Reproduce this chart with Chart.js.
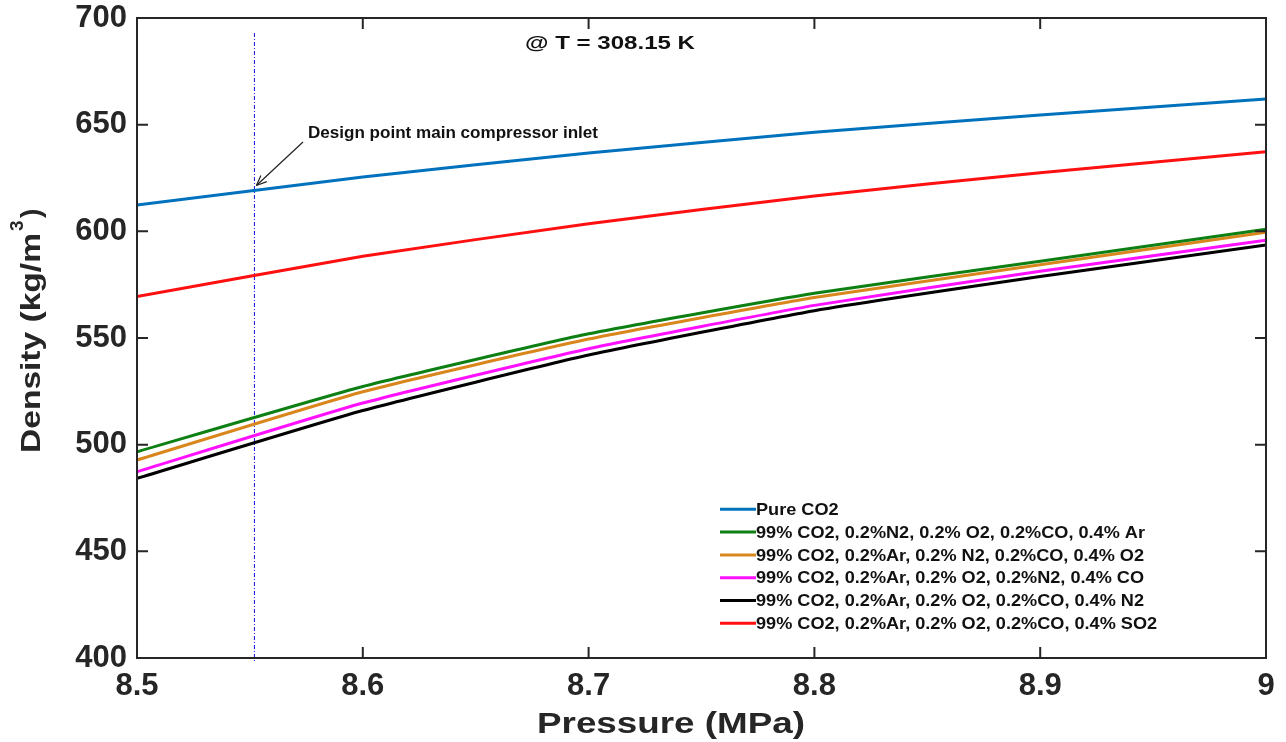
<!DOCTYPE html>
<html lang="en">

<head>
  <meta charset="UTF-8" />
  <title>Density vs Pressure</title>
  <style>
    body {
      margin: 0;
      background: #fff;
    }

    #chartBox {
      width: 1286px;
      height: 742px;
    }
  </style>
  <script src="https://cdn.jsdelivr.net/npm/chart.js"></script>
</head>

<body>
  <div id="chartBox">
    <canvas id="chart"></canvas>
  </div>
</body>

</html>
<script>
  // data
  const pressure = [8.5, 8.6, 8.7, 8.8, 8.9, 9.0]
  const pureCO2 = [612.3, 625.5, 636.7, 646.5, 654.5, 662.0]
  const mixAr = [496.7, 527.3, 552.0, 571.0, 586.0, 601.0]
  const mixO2 = [492.8, 524.8, 549.5, 569.0, 584.3, 599.6]
  const mixCO = [487.3, 519.5, 545.0, 565.3, 581.3, 595.8]
  const mixN2 = [484.2, 516.0, 542.0, 562.8, 578.8, 593.6]
  const mixSO2 = [569.4, 588.3, 603.6, 616.6, 627.5, 637.3]

  const seriesNames = [
    "Pure CO2",
    "99% CO2, 0.2%N2, 0.2% O2, 0.2%CO, 0.4% Ar",
    "99% CO2, 0.2%Ar, 0.2% N2, 0.2%CO, 0.4% O2",
    "99% CO2, 0.2%Ar, 0.2% O2, 0.2%N2, 0.4% CO",
    "99% CO2, 0.2%Ar, 0.2% O2, 0.2%CO, 0.4% N2",
    "99% CO2, 0.2%Ar, 0.2% O2, 0.2%CO, 0.4% SO2"
  ]
  const seriesColors = ["#0072BD", "#0E7F12", "#D9861C", "#FF10FF", "#000000", "#FF1010"]
  const seriesValues = [pureCO2, mixAr, mixO2, mixCO, mixN2, mixSO2]

  const xTicks = [8.5, 8.6, 8.7, 8.8, 8.9, 9]
  const xTickLabels = ["8.5", "8.6", "8.7", "8.8", "8.9", "9"]
  const yTicks = [400, 450, 500, 550, 600, 650, 700]

  const designPressure = 8.552
  const designLabel = "Design point main compressor inlet"
  const tempLabel = "@ T = 308.15 K"

  const axisColor = "#262626"
  const boldFont = "'Liberation Sans', Arial, sans-serif"

  const datasets = seriesValues.map((vals, i) => ({
    label: seriesNames[i],
    data: vals.map((v, j) => ({ x: pressure[j], y: v })),
    borderColor: seriesColors[i],
    backgroundColor: seriesColors[i],
    borderWidth: 3,
    pointRadius: 0,
    tension: 0.15,
    fill: false
  }))

  // draws text squeezed/stretched to a given width (the figure is slightly stretched)
  function fitText(ctx, text, x, y, width) {
    const w = ctx.measureText(text).width
    ctx.save()
    ctx.translate(x, y)
    ctx.scale(width / w, 1)
    ctx.fillText(text, 0, 0)
    ctx.restore()
  }

  // frame, inward ticks, titles, annotations and legend
  const decorations = {
    id: "decorations",
    beforeDatasetsDraw(chart) {
      const { ctx, chartArea, scales } = chart
      const px = scales.x.getPixelForValue(designPressure)
      ctx.save()
      ctx.strokeStyle = "#1010E0"
      ctx.lineWidth = 1
      ctx.setLineDash([4, 2, 1, 2])
      ctx.beginPath()
      ctx.moveTo(px, chartArea.top + 15)
      ctx.lineTo(px, chartArea.bottom + 4)
      ctx.stroke()
      ctx.restore()
    },
    afterDraw(chart) {
      const { ctx, chartArea, scales } = chart
      const { left, right, top, bottom } = chartArea
      ctx.save()
      ctx.strokeStyle = axisColor
      ctx.lineWidth = 2
      ctx.strokeRect(left, top, right - left, bottom - top)
      const tl = 11
      ctx.beginPath()
      xTicks.forEach(v => {
        const p = scales.x.getPixelForValue(v)
        ctx.moveTo(p, bottom); ctx.lineTo(p, bottom - tl)
        ctx.moveTo(p, top); ctx.lineTo(p, top + tl)
      })
      yTicks.forEach(v => {
        const p = scales.y.getPixelForValue(v)
        ctx.moveTo(left, p); ctx.lineTo(left + tl, p)
        ctx.moveTo(right, p); ctx.lineTo(right - tl, p)
      })
      ctx.stroke()

      // axis titles
      ctx.fillStyle = axisColor
      ctx.textBaseline = "alphabetic"
      ctx.textAlign = "left"
      ctx.font = "bold 29px " + boldFont
      fitText(ctx, "Pressure (MPa)", 537, 733, 268)

      ctx.save()
      ctx.translate(40, 453)
      ctx.rotate(-Math.PI / 2)
      ctx.font = "bold 28px " + boldFont
      fitText(ctx, "Density (kg/m", 0, 0, 220)
      ctx.font = "bold 19px " + boldFont
      ctx.fillText("3", 222, -17)
      ctx.font = "bold 28px " + boldFont
      ctx.fillText(")", 235, 0)
      ctx.restore()

      // temperature note
      ctx.fillStyle = "#111"
      ctx.font = "bold 19px " + boldFont
      fitText(ctx, tempLabel, 525, 49, 170)

      // design point arrow
      const ax = scales.x.getPixelForValue(designPressure)
      const ay = scales.y.getPixelForValue(pureCO2[0] + (pureCO2[1] - pureCO2[0]) * (designPressure - 8.5) / 0.1)
      ctx.font = "bold 16px " + boldFont
      fitText(ctx, designLabel, 308, 138, 290)
      const sx = 303, sy = 142
      const ex = ax + 2, ey = ay - 5
      ctx.strokeStyle = "#222"
      ctx.lineWidth = 1.2
      ctx.beginPath()
      ctx.moveTo(sx, sy); ctx.lineTo(ex, ey)
      ctx.stroke()
      const ang = Math.atan2(ey - sy, ex - sx)
      ctx.beginPath()
      ctx.moveTo(ex, ey)
      ctx.lineTo(ex - 11 * Math.cos(ang - 0.4), ey - 11 * Math.sin(ang - 0.4))
      ctx.moveTo(ex, ey)
      ctx.lineTo(ex - 11 * Math.cos(ang + 0.4), ey - 11 * Math.sin(ang + 0.4))
      ctx.stroke()

      // legend inside the axes
      ctx.font = "bold 17px " + boldFont
      const legScale = 389 / ctx.measureText(seriesNames[1]).width
      ctx.textBaseline = "middle"
      seriesNames.forEach((name, i) => {
        const y = 509.3 + i * 22.8
        ctx.strokeStyle = seriesColors[i]
        ctx.lineWidth = 3
        ctx.beginPath()
        ctx.moveTo(720, y); ctx.lineTo(756, y)
        ctx.stroke()
        ctx.fillStyle = "#111"
        fitText(ctx, name, 756, y + 1, ctx.measureText(name).width * legScale)
      })
      ctx.restore()
    }
  }

  const chart = new Chart(document.querySelector("#chart"), {
    type: "line",
    data: { datasets },
    options: {
      responsive: true,
      maintainAspectRatio: false,
      animation: false,
      layout: { padding: { top: 18, right: 20, left: 0, bottom: 0 } },
      plugins: {
        legend: { display: false },
        tooltip: { enabled: false }
      },
      scales: {
        x: {
          type: "linear",
          min: 8.5,
          max: 9,
          afterBuildTicks: s => { s.ticks = xTicks.map(v => ({ value: v })) },
          afterFit: s => { s.height = 84 },
          grid: { display: false, drawTicks: false },
          border: { display: false },
          ticks: {
            color: axisColor,
            padding: 10,
            font: { family: boldFont, size: 31, weight: "bold" },
            maxRotation: 0,
            callback: (v) => xTickLabels[xTicks.indexOf(+v.toFixed(1))] ?? ""
          }
        },
        y: {
          min: 400,
          max: 700,
          afterBuildTicks: s => { s.ticks = yTicks.map(v => ({ value: v })) },
          afterFit: s => { s.width = 137; s.paddingTop = 0; s.paddingBottom = 0 },
          grid: { display: false, drawTicks: false },
          border: { display: false },
          ticks: {
            color: axisColor,
            padding: 10,
            font: { family: boldFont, size: 31, weight: "bold", lineHeight: 0.5 }
          }
        }
      }
    },
    plugins: [decorations]
  })
</script>
